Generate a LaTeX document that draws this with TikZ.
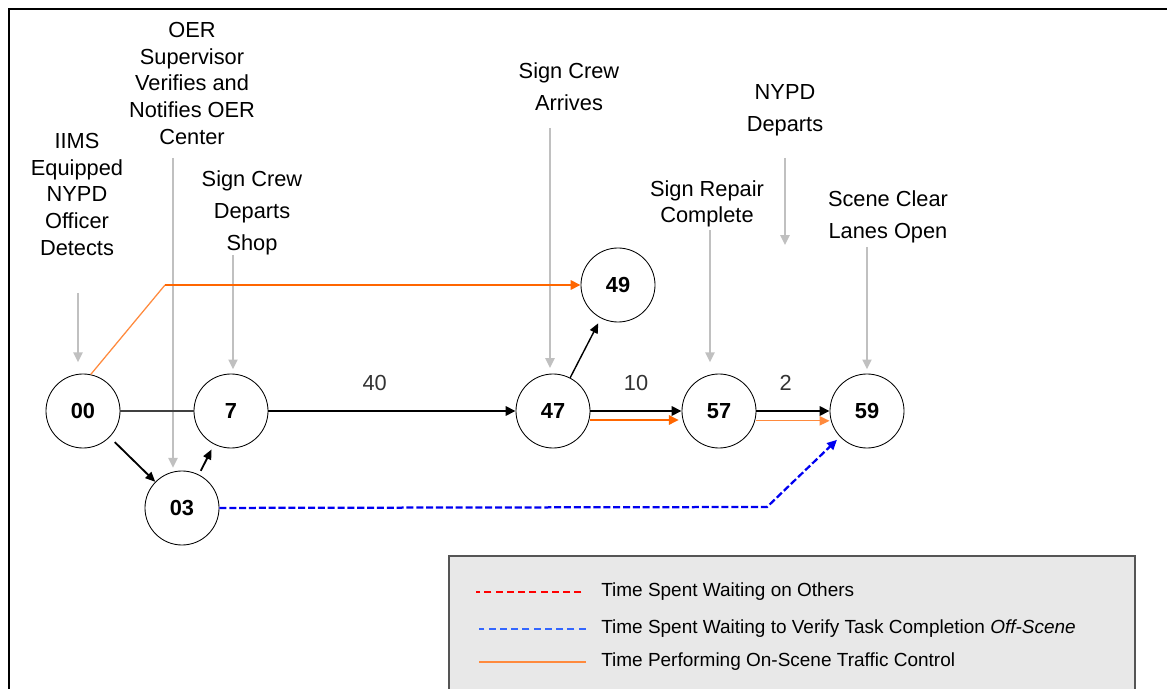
\documentclass[tikz,border=0pt]{standalone}
\usepackage{fontspec}
\setmainfont{Liberation Sans}
\usetikzlibrary{arrows.meta}

\definecolor{cueGray}{HTML}{C0C0C0}
\definecolor{trafficOrange}{HTML}{FF6600}
\definecolor{lightOrange}{HTML}{FF8A3D}
\definecolor{offBlue}{HTML}{0000F0}
\definecolor{legendFill}{HTML}{E8E8E8}
\definecolor{legendEdge}{HTML}{555555}
\definecolor{legendBlue}{HTML}{3366FF}

\begin{document}
\begin{tikzpicture}[
    x=0.025cm, y=-0.025cm,
    every node/.style={font=\fontsize{15.5}{19}\selectfont, align=center},
    event/.style={circle, draw, line width=0.6pt, minimum size=1.85cm, inner sep=0pt, font=\fontsize{15.5}{19}\selectfont\bfseries},
    milestone/.style={anchor=north, inner sep=0pt},
    cue/.style={draw=cueGray, line width=1.4pt, -{Triangle[length=7pt,width=6.5pt]}},
    flow/.style={line width=2pt, -{Triangle[length=7pt,width=6.5pt]}},
    link/.style={line width=1.3pt, -{Triangle[length=7pt,width=6pt]}},
    weight/.style={above=10pt, text=black!80, font=\fontsize{15.5}{19}\selectfont},
    trafficThick/.style={draw=trafficOrange, line width=2pt, -{Triangle[length=7pt,width=6.5pt]}},
    trafficThin/.style={draw=lightOrange, line width=0.9pt},
    offscene/.style={draw=offBlue, line width=1.6pt, dash pattern=on 5pt off 2pt, -{Triangle[length=7pt,width=6.5pt]}},
    key/.style={anchor=west, inner sep=0pt, font=\fontsize{13.5}{16}\selectfont}
]
\useasboundingbox (0,0) rectangle (1167,689);

% Frame
\draw[line width=2.1pt] (9,689) -- (9,9) -- (1167,9);

% Events
\node[event] (n00) at (83,411) {00};
\node[event] (n7) at (231,411) {7};
\node[event] (n03) at (182,508) {03};
\node[event] (n47) at (553,411) {47};
\node[event] (n49) at (618,285) {49};
\node[event] (n57) at (719,411) {57};
\node[event] (n59) at (867,411) {59};

% Milestone texts
\node[milestone] (tDetect) at (77,133) {IIMS\\Equipped\\NYPD\\Officer\\Detects};
\node[milestone] (tVerify) at (192,22) {OER\\Supervisor\\Verifies and\\Notifies OER\\Center};
\node[milestone] (tDepart) at (252,170) {Sign Crew\\[4pt]Departs\\[4pt]Shop};
\node[milestone] (tArrive) at (569,62) {Sign Crew\\[4pt]Arrives};
\node[milestone] (tNypd) at (785,84) {NYPD\\[4pt]Departs};
\node[milestone] (tRepair) at (707,180) {Sign Repair\\Complete};
\node[milestone] (tClear) at (888,190) {Scene Clear\\[4pt]Lanes Open};

% Milestone arrows
\coordinate (cDetect) at (78,293);
\coordinate (cVerify) at (173,158);
\coordinate (cDepart) at (233,255);
\coordinate (cArrive) at (550,128);
\coordinate (cNypdTop) at (785,158);
\coordinate (cNypdEnd) at (785,245);
\coordinate (cRepair) at (710,230);
\coordinate (cClear) at (867,247);
\draw[cue, shorten >=8pt] (cDetect) -- (cDetect |- n00.north);
\draw[cue, shorten >=2pt] (cVerify) -- (cVerify |- n03.north);
\draw[cue, shorten >=3pt] (cDepart) -- (cDepart |- n7.north);
\draw[cue, shorten >=4pt] (cArrive) -- (cArrive |- n47.north);
\draw[cue] (cNypdTop) -- (cNypdEnd);
\draw[cue, shorten >=8pt] (cRepair) -- (cRepair |- n57.north);
\draw[cue, shorten >=3pt] (cClear) -- (cClear |- n59.north);

% Activities
\draw[line width=0.8pt, draw=black!75] (n00) -- (n7);
\draw[flow] (n7) -- (n47) node[pos=.43, weight] {40};
\draw[flow] (n47) -- (n57) node[midway, weight] {10};
\draw[flow] (n57) -- (n59) node[pos=.4, weight] {2};
\draw[link, shorten <=5pt] (n00) -- (n03);
\draw[link, shorten <=3pt, shorten >=4pt] (n03) -- (n7);
\draw[link, line width=1pt, shorten >=4pt] (n47) -- (n49);

% On-scene traffic control
\coordinate (kTraffic) at (165,285);
\draw[trafficThin] (n00.78) -- (kTraffic);
\draw[trafficThick] (kTraffic) -- (n49);
\draw[trafficThick, shorten >=2pt] ([yshift=-6.4pt]n47.east) -- ([yshift=-6.4pt]n57.west);
\draw[trafficThin, -{Triangle[length=7pt,width=6.5pt]}] ([yshift=-7pt]n57.east) -- ([yshift=-7pt]n59.west);

% Off-scene verification
\coordinate (kVerify) at (767,507);
\draw[offscene, shorten >=3pt] (n03) -- (kVerify) -- (n59);

% Legend
\fill[legendFill] (449,556) rectangle (1135,689);
\draw[legendEdge, line width=1pt] (449,689) -- (449,556) -- (1135,556) -- (1135,689);
\node[key] (kWait) at (601,592) {Time Spent Waiting on Others};
\node[key] (kOff) at (601,629) {Time Spent Waiting to Verify Task Completion \textit{Off-Scene}};
\node[key] (kOn) at (601,662) {Time Performing On-Scene Traffic Control};
\draw[red, line width=1.5pt, dash pattern=on 5pt off 3pt] ([xshift=-14pt]kWait.west) -- ++(-105,0);
\draw[legendBlue, line width=1.5pt, dash pattern=on 5pt off 3pt] ([xshift=-11pt]kOff.west) -- ++(-107,0);
\draw[lightOrange, line width=1pt] ([xshift=-11pt]kOn.west) -- ++(-107,0);

\end{tikzpicture}
\end{document}
